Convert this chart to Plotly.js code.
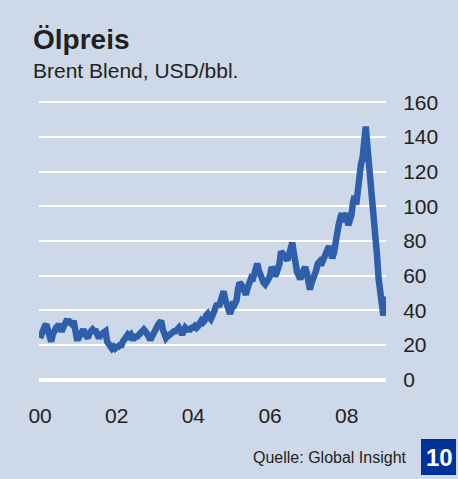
<!DOCTYPE html>
<html>
<head>
<meta charset="utf-8">
<script src="https://cdn.plot.ly/plotly-3.0.1.min.js"></script>
<style>
  html, body { margin: 0; padding: 0; background: #CDD8E9; }
  #chart { width: 458px; height: 479px; }
</style>
</head>
<body>
<div id="chart"></div>
<script>
// Brent Blend, USD/bbl — semi-monthly readings (1st and 16th of each month)
const brent2000 = [24, 27, 28, 31, 32, 28, 24, 22, 26, 29, 30, 31, 31, 29, 29, 31, 33, 35, 32, 33, 32, 34, 29, 24];
const brent2001 = [24, 26, 29, 29, 27, 25, 24, 27, 29, 29, 28, 28, 26, 24, 26, 27, 27, 28, 22, 21, 20, 18, 19, 18];
const brent2002 = [19, 19, 20, 20, 22, 24, 26, 26, 25, 26, 24, 24, 25, 25, 26, 27, 28, 29, 28, 27, 25, 23, 25, 28];
const brent2003 = [30, 31, 32, 33, 34, 29, 25, 24, 25, 26, 27, 28, 28, 28, 29, 30, 28, 26, 28, 30, 29, 29, 29, 30];
const brent2004 = [30, 31, 30, 31, 33, 34, 33, 34, 37, 38, 36, 35, 37, 39, 42, 44, 42, 45, 49, 51, 46, 42, 40, 38];
const brent2005 = [41, 45, 44, 46, 52, 56, 55, 52, 50, 49, 53, 57, 58, 57, 62, 66, 67, 63, 60, 58, 56, 55, 56, 58];
const brent2006 = [60, 65, 63, 60, 61, 63, 67, 74, 72, 70, 70, 69, 72, 77, 79, 73, 64, 62, 60, 58, 61, 64, 65, 62];
const brent2007 = [58, 52, 56, 58, 61, 63, 67, 68, 66, 68, 70, 72, 75, 77, 74, 70, 73, 80, 84, 89, 93, 96, 91, 94];
const brent2008 = [96, 89, 91, 95, 102, 106, 101, 110, 115, 124, 128, 140, 146, 135, 124, 116, 110, 100, 90, 72, 58, 50, 43, 37];
const brent2009 = [48];

const years = [2000, 2001, 2002, 2003, 2004, 2005, 2006, 2007, 2008, 2009];
const series = [brent2000, brent2001, brent2002, brent2003, brent2004,
                brent2005, brent2006, brent2007, brent2008, brent2009];

const tickDates = ['2000-01-01', '2002-01-01', '2004-01-01', '2006-01-01', '2008-01-01'];
const tickLabels = ['00', '02', '04', '06', '08'];

// dates for each semi-monthly value
const dates = [];
const prices = [];
series.forEach((vals, yi) => {
  vals.forEach((v, i) => {
    const month = String(Math.floor(i / 2) + 1).padStart(2, '0');
    const day = i % 2 === 0 ? '01' : '16';
    dates.push(`${years[yi]}-${month}-${day}`);
    prices.push(v);
  });
});

const BG = '#CDD8E9';
const INK = '#231F20';
const FONT = 'Liberation Sans, Arial, Helvetica, sans-serif';

// plot area: left 39, right 386, top 97, bottom 385 (px)
const px = x => (x - 39) / 347;
const py = y => (385 - y) / 288;

const trace = {
  x: dates,
  y: prices,
  type: 'scatter',
  mode: 'lines',
  line: { color: '#2F5FAA', width: 6.5 },
  hoverinfo: 'skip'
};

const layout = {
  width: 458,
  height: 479,
  margin: { l: 39, r: 72, t: 97, b: 94 },
  paper_bgcolor: BG,
  plot_bgcolor: BG,
  font: { family: FONT, color: INK },
  showlegend: false,
  xaxis: {
    type: 'date',
    range: ['1999-12-22', '2009-01-10'],
    tickvals: tickDates,
    ticktext: tickLabels,
    showgrid: false,
    zeroline: false,
    showline: false,
    ticks: 'outside',
    ticklen: 12,
    tickcolor: 'rgba(0,0,0,0)',
    tickfont: { size: 21, color: INK }
  },
  yaxis: {
    side: 'right',
    range: [-3, 163],
    tick0: 0,
    dtick: 20,
    showgrid: true,
    gridcolor: '#FFFFFF',
    gridwidth: 2,
    zeroline: true,
    zerolinecolor: '#FFFFFF',
    zerolinewidth: 4,
    showline: false,
    ticks: 'outside',
    ticklen: 12,
    tickcolor: 'rgba(0,0,0,0)',
    tickfont: { size: 21, color: INK }
  },
  shapes: [{
    type: 'rect',
    xref: 'paper', yref: 'paper',
    x0: px(421), x1: px(456), y0: py(475), y1: py(439),
    fillcolor: '#00339A',
    line: { width: 0 }
  }],
  annotations: [
    {
      xref: 'paper', yref: 'paper',
      x: px(31), y: py(39), xanchor: 'left', yanchor: 'middle',
      text: '<b>Ölpreis</b>', showarrow: false,
      font: { size: 28, color: INK }
    },
    {
      xref: 'paper', yref: 'paper',
      x: px(31), y: py(70), xanchor: 'left', yanchor: 'middle',
      text: 'Brent Blend, USD/bbl.', showarrow: false,
      font: { size: 21, color: INK }
    },
    {
      xref: 'paper', yref: 'paper',
      x: px(409), y: py(457), xanchor: 'right', yanchor: 'middle',
      text: 'Quelle: Global Insight', showarrow: false,
      font: { size: 16, color: INK }
    },
    {
      xref: 'paper', yref: 'paper',
      x: px(439), y: py(457), xanchor: 'center', yanchor: 'middle',
      text: '<b>10</b>', showarrow: false,
      font: { size: 24, color: '#FFFFFF' }
    }
  ]
};

Plotly.newPlot('chart', [trace], layout, { displayModeBar: false, staticPlot: true });
</script>
</body>
</html>
